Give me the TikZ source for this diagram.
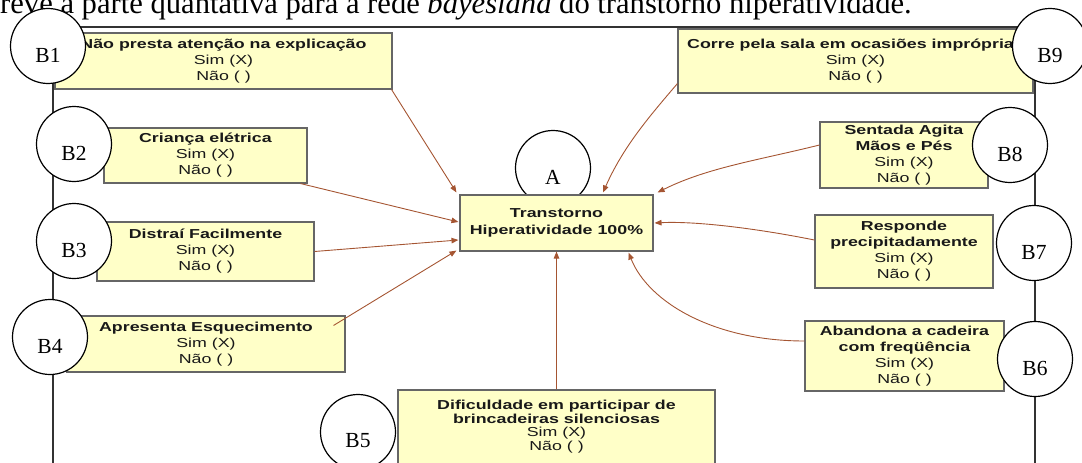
\documentclass[tikz,border=0pt]{standalone}
\usepackage{fontspec}
\usetikzlibrary{arrows.meta,calc,fit}
\newfontfamily\boxfont[FakeStretch=1.37]{Liberation Sans}
\newfontfamily\labfont{Liberation Serif}
\definecolor{boxyellow}{RGB}{255,255,200}
\definecolor{arrowbrown}{RGB}{165,85,50}
\tikzset{
  bbox/.style={draw=black!60, line width=1.1pt, fill=boxyellow, inner sep=0pt,
    align=center, font=\boxfont\fontsize{13}{16}\selectfont, text=black!90},
  btext/.style={inner sep=0pt, align=center, font=\boxfont\fontsize{13}{13.5}\selectfont, text=black!90},
  bc/.style={circle, draw=black, line width=1.2pt, fill=white, minimum size=75pt, inner sep=0pt},
  bl/.style={font=\labfont\fontsize{21.5}{24}\selectfont, yshift=-9pt, inner sep=0pt},
  frame/.style={line width=2pt, draw=black!80},
  arr/.style={draw=arrowbrown, line width=0.9pt, -{Triangle[length=7pt,width=5.5pt]}},
}
\begin{document}
\begin{tikzpicture}[x=1pt,y=-1pt]
\useasboundingbox (0,0) rectangle (1082,463);
\clip (0,0) rectangle (1082,463);
% caption line (cut at top)
\node[anchor=base west, inner sep=0pt, font=\labfont\fontsize{30.6}{34}\selectfont] (cap) at (0,13)
  {reve a parte quantativa para a rede \textit{bayesiana} do transtorno hiperatividade.};
% frame
\draw[frame] (53,470) -- (53,27) -- (1035,27) -- (1035,470);
% circle A (behind central box)
\node[bc, label={[bl]center:A}] (cA) at (553,168) {};
% boxes
\node[bbox, minimum width=337, minimum height=56] (b1) at (223.5,61)
  {\textbf{Não presta atenção na explicação}\\Sim (X)\\Não ( )};
\node[bbox, minimum width=203, minimum height=55] (b2) at (205.5,155.5)
  {\textbf{Criança elétrica}\\Sim (X)\\Não ( )};
\node[bbox, minimum width=217, minimum height=59] (b3) at (205.5,251.5)
  {\textbf{Distraí Facilmente}\\Sim (X)\\Não ( )};
\node[bbox, minimum width=278, minimum height=56] (b4) at (206,344)
  {\textbf{Apresenta Esquecimento}\\Sim (X)\\Não ( )};
\node[bbox, font=\boxfont\fontsize{13}{17}\selectfont, minimum width=193, minimum height=56] (a) at (556.5,223)
  {\textbf{Transtorno}\\\textbf{Hiperatividade 100\%}};
\coordinate (b5nw) at (398,390);
\coordinate (b5se) at (715,485);
\node[bbox, fit=(b5nw)(b5se)] (b5) {};
\node[btext, anchor=north] (t5) at (556.5,400)
  {\textbf{Dificuldade em participar de}\\\textbf{brincadeiras silenciosas}\\Sim (X)\\Não ( )};
\node[bbox, minimum width=355, minimum height=64] (b9) at (855.5,61)
  {\textbf{Corre pela sala em ocasiões impróprias}\\Sim (X)\\Não ( )};
\node[bbox, minimum width=168, minimum height=66] (b8) at (904,155)
  {\textbf{Sentada Agita}\\\textbf{Mãos e Pés}\\Sim (X)\\Não ( )};
\node[bbox, minimum width=178, minimum height=73] (b7) at (904,251.5)
  {\textbf{Responde}\\\textbf{precipitadamente}\\Sim (X)\\Não ( )};
\node[bbox, minimum width=199, minimum height=70] (b6) at (904.5,356)
  {\textbf{Abandona a cadeira}\\\textbf{com freqüência}\\Sim (X)\\Não ( )};
% connectors
\draw[arr] ($(b1.south east)+(-1,0)$) -- ($(a.north west)+(-3,-2)$);
\draw[arr] ($(b2.south east)+(-7,0)$) -- ($(a.west)+(-1,-1)$);
\draw[arr] (b3.east) -- ($(a.west)+(-1,17)$);
\draw[arr] ($(b4.north east)+(-12,10)$) -- ($(a.south west)+(-3,-1)$);
\draw[arr] (b5.north) -- (a.south);
\draw[arr] ($(b6.west)+(0,-15)$) .. controls +(-90,0) and +(20,50) .. ($(a.south east)+(-25,1)$);
\draw[arr] ($(b7.west)+(0,-11.5)$) .. controls +(-60,-12) and +(40,-2) .. ($(a.east)+(1,0)$);
\draw[arr] ($(b8.west)+(0,-10)$) .. controls +(-60,15) and +(50,-25) .. ($(a.north east)+(4,-2)$);
\draw[arr] ($(b9.south west)+(0,-10)$) .. controls +(-30,35) and +(20,-45) .. ($(a.north)+(46.5,-2)$);
% B circles
\node[bc, label={[bl]center:B1}] (cB1) at (48,46) {};
\node[bc, label={[bl]center:B2}] (cB2) at (74,144) {};
\node[bc, label={[bl]center:B3}] (cB3) at (74,241) {};
\node[bc, label={[bl]center:B4}] (cB4) at (50,337) {};
\node[bc, label={[bl]center:B5}] (cB5) at (358,432) {};
\node[bc, label={[bl]center:B6}] (cB6) at (1035,359) {};
\node[bc, label={[bl]center:B7}] (cB7) at (1034,243) {};
\node[bc, label={[bl]center:B8}] (cB8) at (1010,145) {};
\node[bc, label={[bl]center:B9}] (cB9) at (1050,46) {};
\end{tikzpicture}
\end{document}
